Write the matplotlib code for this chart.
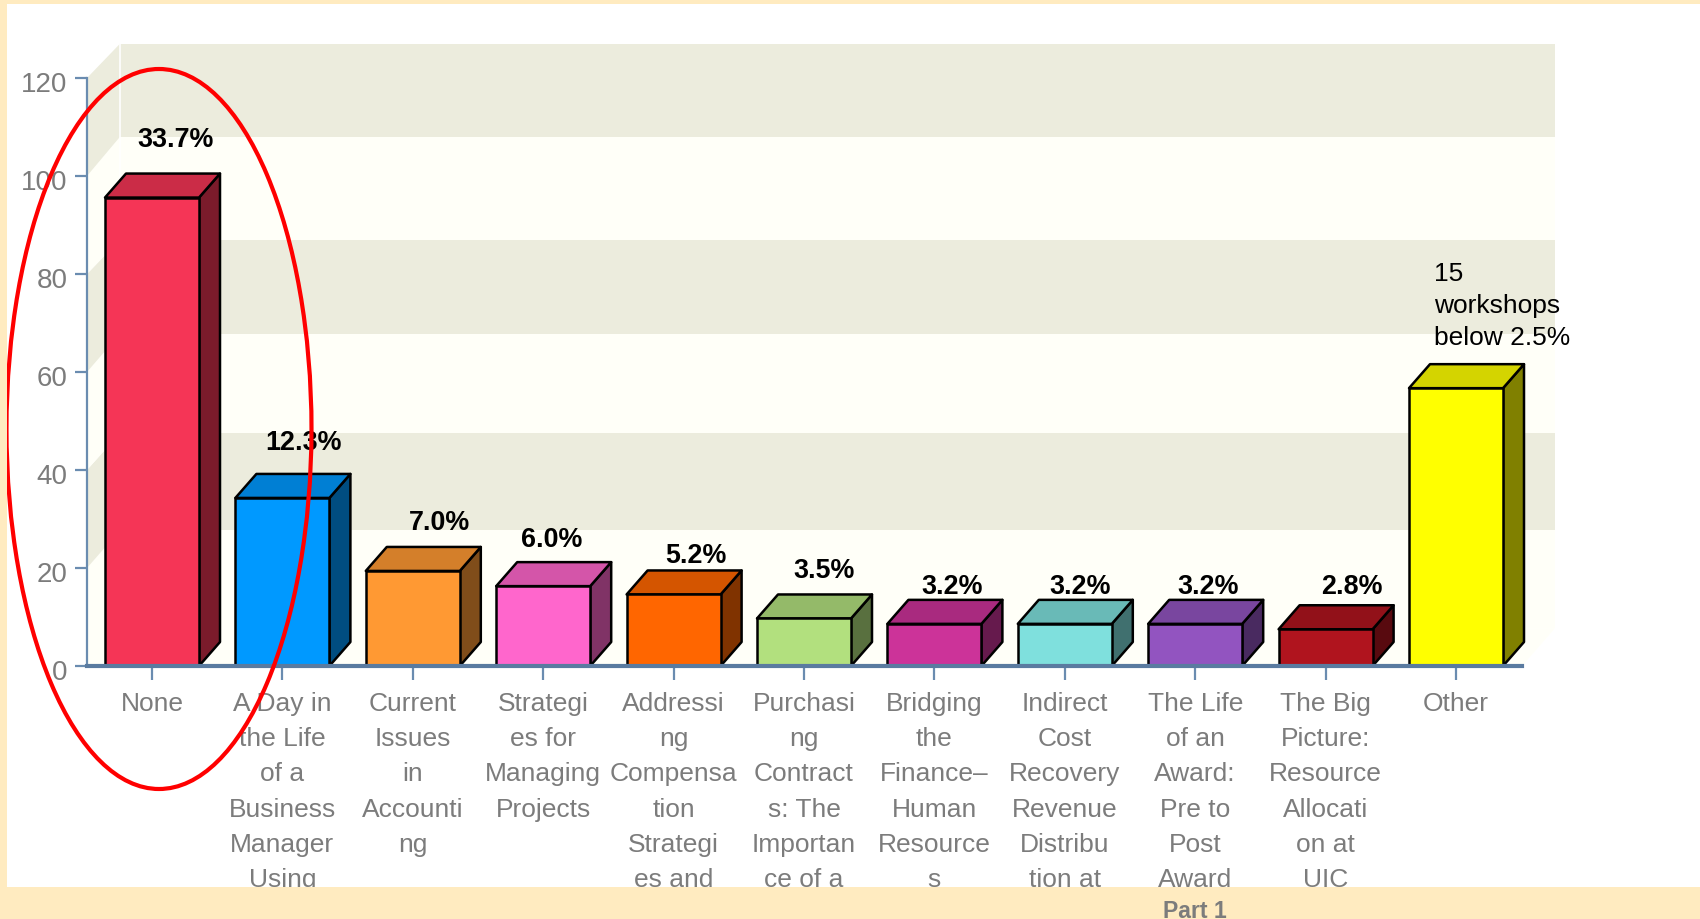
"""3D-style workshop bar chart with a red ellipse around the first bar."""

import matplotlib

matplotlib.use("Agg")
import matplotlib.pyplot as plt
from matplotlib.colors import to_rgb
from matplotlib.patches import Ellipse, Polygon, Rectangle
from matplotlib.transforms import Affine2D

plt.rcParams["font.family"] = ["Liberation Sans", "DejaVu Sans"]

categories = [
    "None",
    "A Day in\nthe Life\nof a\nBusiness\nManager\nUsing",
    "Current\nIssues\nin\nAccounti\nng",
    "Strategi\nes for\nManaging\nProjects",
    "Addressi\nng\nCompensa\ntion\nStrategi\nes and",
    "Purchasi\nng\nContract\ns: The\nImportan\nce of a",
    "Bridging\nthe\nFinance\u2013\nHuman\nResource\ns",
    "Indirect\nCost\nRecovery\nRevenue\nDistribu\ntion at",
    "The Life\nof an\nAward:\nPre to\nPost\nAward",
    "The Big\nPicture:\nResource\nAllocati\non at\nUIC",
    "Other",
]
values = [95.6, 34.3, 19.4, 16.3, 14.6, 9.7, 8.6, 8.6, 8.6, 7.5, 56.7]
percent_labels = ["33.7%", "12.3%", "7.0%", "6.0%", "5.2%", "3.5%", "3.2%", "3.2%", "3.2%", "2.8%"]
colors = [
    "#F53556", "#0099FF", "#FF9933", "#FF66CC", "#FF6600", "#B2E07E",
    "#CC3399", "#7FE0DD", "#9254C0", "#B0141E", "#FFFF00",
]
y_ticks = [0, 20, 40, 60, 80, 100, 120]
# heights of the band edges on the back wall, in axis units
wall_levels = [7.7, 27.7, 47.5, 67.8, 87, 108, 127]

FRAME = "#FFEBC0"
GRAY = "#7C7C7C"
AXIS = "#6A8CB0"
BAND_DARK = "#ECECDD"
BAND_LIGHT = "#FFFFF8"

W, H = 1700, 920
X0, X_STEP = 152, 130.4  # pixel of first tick, pixels per category
Y0, Y_SCALE = 667, 4.9  # pixel of zero, pixels per unit
AX_LEFT, AX_RIGHT, AX_TOP = 87, 1522, 79

fig = plt.figure(figsize=(W / 100, H / 100), dpi=100, facecolor="white")
ax = fig.add_axes([AX_LEFT / W, 1 - Y0 / H, (AX_RIGHT - AX_LEFT) / W, (Y0 - AX_TOP) / H])
ax.set_xlim((AX_LEFT - X0) / X_STEP, (AX_RIGHT - X0) / X_STEP)
ax.set_ylim(0, 120)
ax.patch.set_visible(False)

# pixel coordinates, origin top left
px = Affine2D().scale(1, -1).translate(0, H)

# walls and floor
wall_dx = 33 / X_STEP
left = ax.get_xlim()[0]
wall_right = (1555 - X0) / X_STEP
for i in range(6):
    lo, hi = y_ticks[i], y_ticks[i + 1]
    wall_lo, wall_hi = wall_levels[i], wall_levels[i + 1]
    col = BAND_LIGHT if i % 2 == 0 else BAND_DARK
    ax.add_patch(Polygon(
        [(left + wall_dx, wall_lo), (wall_right, wall_lo),
         (wall_right, wall_hi), (left + wall_dx, wall_hi)],
        fc=col, ec="none", zorder=1, clip_on=False,
    ))
    ax.add_patch(Polygon(
        [(left, lo), (left + wall_dx, wall_lo),
         (left + wall_dx, wall_hi), (left, hi)],
        fc=col, ec="none", zorder=1, clip_on=False,
    ))
ax.add_patch(Polygon(
    [(left, 0), (left + wall_dx, wall_levels[0]), (wall_right, wall_levels[0]),
     (wall_right - wall_dx, 0)],
    fc=BAND_LIGHT, ec="none", zorder=1, clip_on=False,
))
ax.plot([left + wall_dx] * 2, [wall_levels[0], wall_levels[-1]], color="white", lw=1.2,
        zorder=1.5, clip_on=False)

# bars with fake depth
bar_w = 94 / X_STEP
dx, dy = 21 / X_STEP, 24 / Y_SCALE
edge_lw = 1.8
for i, (v, c) in enumerate(zip(values, colors)):
    rgb = to_rgb(c)
    x0, x1 = i - bar_w / 2, i + bar_w / 2
    ax.add_patch(Polygon(
        [(x1, 0), (x1 + dx, dy), (x1 + dx, v + dy), (x1, v)],
        fc=[k * 0.5 for k in rgb], ec="black", lw=edge_lw, zorder=2.1,
        joinstyle="round", clip_on=False,
    ))
    ax.add_patch(Polygon(
        [(x0, v), (x0 + dx, v + dy), (x1 + dx, v + dy), (x1, v)],
        fc=[k * 0.83 for k in rgb], ec="black", lw=edge_lw, zorder=2.1,
        joinstyle="round", clip_on=False,
    ))
    ax.bar(i, v, width=bar_w, color=c, edgecolor="black", linewidth=edge_lw,
           zorder=2.2, clip_on=False)

# axes
for side in ["top", "right"]:
    ax.spines[side].set_visible(False)
ax.spines["left"].set_color(AXIS)
ax.spines["left"].set_linewidth(1.6)
ax.spines["bottom"].set_color("#5A7BA0")
ax.spines["bottom"].set_linewidth(3)
ax.spines["bottom"].set_zorder(3)
ax.set_yticks(y_ticks)
ax.set_xticks(range(len(categories)))
ax.set_xticklabels(categories, linespacing=1.59, va="top", ha="center")
ax.tick_params(axis="y", length=9, width=1.6, color=AXIS, labelsize=20,
               labelcolor=GRAY, pad=5)
ax.tick_params(axis="x", length=10, width=1.6, color=AXIS, labelsize=19,
               labelcolor=GRAY, pad=8)
for tick_label in ax.get_yticklabels():
    tick_label.set_transform(tick_label.get_transform() + Affine2D().translate(0, -3))

# percent labels, placed by hand like in the original slide
label_x = [175.6, 303.5, 440, 552, 696, 824, 952, 1080, 1208, 1352]
label_y = [140, 443.5, 523.5, 540, 556, 571.5, 587.5, 587.5, 587.5, 587.5]
for s, lx, ly in zip(percent_labels, label_x, label_y):
    fig.text(lx, ly, s, transform=px, ha="center", va="center", fontsize=19.4,
             fontweight="bold", color="black", zorder=3)
fig.text(1434, 306, "15\nworkshops\nbelow 2.5%", transform=px, ha="left", va="center",
         fontsize=19, color="black", linespacing=1.425, zorder=3)

# red ellipse
fig.add_artist(Ellipse((159, 430), 305, 720, transform=px, fc="none", ec="#FF0000",
                       lw=3, zorder=4))

# slide frame on top of the cut-off tick labels
for x, y, w, h in [(0, 0, W, 5), (0, 0, 7, H), (0, 888, W, H - 888)]:
    fig.add_artist(Rectangle((x, y), w, h, transform=px, fc=FRAME, ec="none", zorder=5))
fig.text(1195, 911.5, "Part 1", transform=px, ha="center", va="center", fontsize=16.6,
         fontweight="bold", color=GRAY, zorder=6)

fig.savefig("out.png", dpi=100)
